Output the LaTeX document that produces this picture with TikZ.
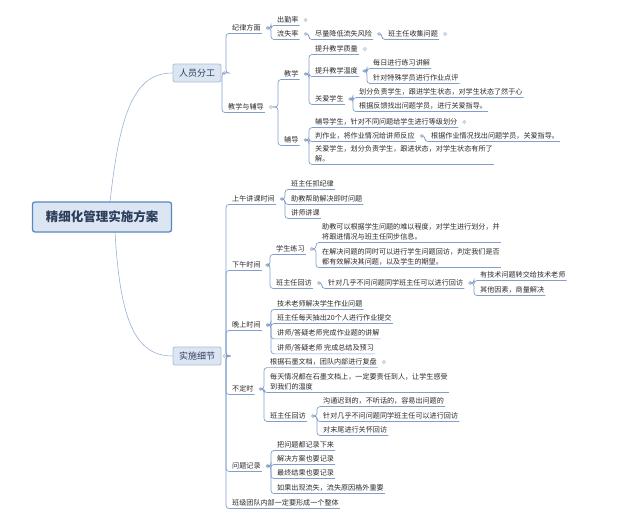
\documentclass[tikz,border=0pt]{standalone}
\usepackage{fontspec}
\setmainfont{Noto Sans CJK SC}
\usepackage{tikz}
\usetikzlibrary{positioning}

\definecolor{linkblue}{HTML}{819FCB}
\definecolor{knobgray}{HTML}{B3BFCE}
\definecolor{boxfill}{HTML}{DCE6F3}
\definecolor{boxline}{HTML}{5A86C2}
\definecolor{mainline}{HTML}{A9BCD8}
\definecolor{inkgray}{HTML}{2A2A2A}
\definecolor{inkblue}{HTML}{2E3D5C}

\begin{document}
\begin{tikzpicture}[x=1pt,y=-1pt,
    topic/.style={anchor=west, inner xsep=1pt, inner ysep=2pt, align=left, text=inkgray, font=\fontsize{7.1}{10}\selectfont},
    main topic/.style={draw=mainline, fill=boxfill, rounded corners=2pt, line width=0.8pt, minimum width=48pt, minimum height=18pt, inner sep=0pt, text=inkblue, font=\fontsize{9}{11}\selectfont},
    central/.style={draw=boxline, fill=boxfill, rounded corners=2.5pt, line width=1.3pt, minimum width=139pt, minimum height=30pt, inner sep=0pt, text=inkblue, font=\bfseries\fontsize{12.5}{14}\selectfont},
    knob/.style={circle, draw=knobgray, fill=knobgray!45, inner sep=0pt, minimum size=3.5pt, right=4pt of #1},
    branch/.style={draw=linkblue, line width=0.7pt, rounded corners=3pt,
        to path={-| ([xshift=-5pt]\tikztotarget.south west) -- (\tikztotarget.south east)}},
    link/.style={draw=linkblue!80, line width=0.6pt}]
    \useasboundingbox (0,0) rectangle (635,522);

    % upper half
    \node[main topic] (ry) at (197,73) {人员分工};
    \node[topic] (jl) at (231,28) {纪律方面};
    \node[topic] (cql) at (276,20) {出勤率};
    \node[topic] (lsl) at (276,34) {流失率};
    \node[topic] (jdfx) at (314,34) {尽量降低流失风险};
    \node[topic] (sjwt) at (387,34) {班主任收集问题};
    \node[topic] (jxfd) at (227,107) {教学与辅导};
    \node[topic] (jx) at (283,74) {教学};
    \node[topic] (zl) at (314,49) {提升教学质量};
    \node[topic] (wd) at (314,71) {提升教学温度};
    \node[topic] (mr) at (372,63) {每日进行练习讲解};
    \node[topic] (dp) at (372,78) {针对特殊学员进行作业点评};
    \node[topic] (ga) at (314,99) {关爱学生};
    \node[topic] (hf) at (358,92) {划分负责学生，跟进学生状态，对学生状态了然于心};
    \node[topic] (zd) at (358,106) {根据反馈找出问题学员，进行关爱指导。};
    \node[topic] (fd) at (283,140) {辅导};
    \node[topic] (dj) at (314,122) {辅导学生，针对不同问题给学生进行等级划分};
    \node[topic] (pzy) at (314,136) {判作业，将作业情况给讲师反应};
    \node[topic] (gzd) at (430,136) {根据作业情况找出问题学员，关爱指导。};
    \node[topic] (gafz) at (314,154) {关爱学生，划分负责学生，跟进状态，对学生状态有所了\\解。};

    % lower half
    \node[main topic] (ss) at (197,356) {实施细节};
    \node[topic] (sw) at (231,199) {上午讲课时间};
    \node[topic] (bzr) at (290,184) {班主任抓纪律};
    \node[topic] (zj) at (290,199) {助教帮助解决即时问题};
    \node[topic] (jk) at (290,213) {讲师讲课};
    \node[topic] (xw) at (231,265) {下午时间};
    \node[topic] (xslx) at (275,249) {学生练习};
    \node[topic] (lx1) at (321,232) {助教可以根据学生问题的难以程度，对学生进行划分，并\\将跟进情况与班主任同步信息。};
    \node[topic] (lx2) at (321,257) {在解决问题的同时可以进行学生问题回访，判定我们是否\\都有效解决其问题，以及学生的期望。};
    \node[topic] (hf1) at (275,283) {班主任回访};
    \node[topic] (jd1) at (327,283) {针对几乎不问问题同学班主任可以进行回访};
    \node[topic] (js) at (479,275) {有技术问题转交给技术老师};
    \node[topic] (qt) at (479,290) {其他因素，商量解决};
    \node[topic] (ws) at (231,325) {晚上时间};
    \node[topic] (ws1) at (276,304) {技术老师解决学生作业问题};
    \node[topic] (ws2) at (276,318) {班主任每天抽出20个人进行作业提交};
    \node[topic] (ws3) at (276,333) {讲师/答疑老师完成作业题的讲解};
    \node[topic] (ws4) at (276,348) {讲师/答疑老师 完成总结及预习};
    \node[topic] (bd) at (231,389) {不定时};
    \node[topic] (fp) at (269,362) {根据石墨文档，团队内部进行复盘};
    \node[topic] (wdu) at (269,382) {每天情况都在石墨文档上，一定要责任到人，让学生感受\\到我们的温度};
    \node[topic] (hf2) at (269,416) {班主任回访};
    \node[topic] (gt) at (322,401) {沟通迟到的，不听话的，容易出问题的};
    \node[topic] (jd2) at (322,416) {针对几乎不问问题同学班主任可以进行回访};
    \node[topic] (mw) at (322,430) {对末尾进行关怀回访};
    \node[topic] (wt) at (231,466) {问题记录};
    \node[topic] (wt1) at (276,445) {把问题都记录下来};
    \node[topic] (wt2) at (276,459) {解决方案也要记录};
    \node[topic] (wt3) at (276,473) {最终结果也要记录};
    \node[topic] (wt4) at (276,488) {如果出现流失，流失原因格外重要};
    \node[topic] (zt) at (231,503) {班级团队内部一定要形成一个整体};

    % knobs
    \node[knob=ry, right=1pt of ry] (k-ry) {};
    \node[knob=jl] (k-jl) {};
    \node[knob=cql] (k-cql) {};
    \node[knob=lsl] (k-lsl) {};
    \node[knob=jdfx] (k-jdfx) {};
    \node[knob=sjwt] (k-sjwt) {};
    \node[knob=jxfd] (k-jxfd) {};
    \node[knob=jx] (k-jx) {};
    \node[knob=zl] (k-zl) {};
    \node[knob=wd] (k-wd) {};
    \node[knob=ga] (k-ga) {};
    \node[knob=fd] (k-fd) {};
    \node[knob=dj] (k-dj) {};
    \node[knob=pzy] (k-pzy) {};
    \node[knob=ss, right=1pt of ss] (k-ss) {};
    \node[knob=sw] (k-sw) {};
    \node[knob=xw] (k-xw) {};
    \node[knob=xslx] (k-xslx) {};
    \node[knob=hf1] (k-hf1) {};
    \node[knob=jd1] (k-jd1) {};
    \node[knob=ws] (k-ws) {};
    \node[knob=bd] (k-bd) {};
    \node[knob=fp] (k-fp) {};
    \node[knob=hf2] (k-hf2) {};
    \node[knob=wt] (k-wt) {};

    \path
    (k-ry) edge[branch] (jl)
           edge[branch] (jxfd)
    (k-jl) edge[branch] (cql)
           edge[branch] (lsl)
    (k-lsl) edge[branch] (jdfx)
    (k-jdfx) edge[branch] (sjwt)
    (k-jxfd) edge[branch] (jx)
             edge[branch] (fd)
    (k-jx) edge[branch] (zl)
           edge[branch] (wd)
           edge[branch] (ga)
    (k-wd) edge[branch] (mr)
           edge[branch] (dp)
    (k-ga) edge[branch] (hf)
           edge[branch] (zd)
    (k-fd) edge[branch] (dj)
           edge[branch] (pzy)
           edge[branch] (gafz)
    (k-pzy) edge[branch] (gzd);

    \path
    (k-ss) edge[branch] (sw)
           edge[branch] (xw)
           edge[branch] (ws)
           edge[branch] (bd)
           edge[branch] (wt)
           edge[branch] (zt)
    (k-sw) edge[branch] (bzr)
           edge[branch] (zj)
           edge[branch] (jk)
    (k-xw) edge[branch] (xslx)
           edge[branch] (hf1)
    (k-xslx) edge[branch] (lx1)
             edge[branch] (lx2)
    (k-hf1) edge[branch] (jd1)
    (k-jd1) edge[branch] (js)
            edge[branch] (qt)
    (k-ws) edge[branch] (ws1)
           edge[branch] (ws2)
           edge[branch] (ws3)
           edge[branch] (ws4)
    (k-bd) edge[branch] (fp)
           edge[branch] (wdu)
           edge[branch] (hf2)
    (k-hf2) edge[branch] (gt)
            edge[branch] (jd2)
            edge[branch] (mw)
    (k-wt) edge[branch] (wt1)
           edge[branch] (wt2)
           edge[branch] (wt3)
           edge[branch] (wt4);

    % centre topic
    \draw[link] (110,202) .. controls (120,110) and (135,73) .. (ry.west);
    \draw[link] (115,232) .. controls (120,320) and (135,356) .. (ss.west);
    \node[central] (fa) at (102,217) {精细化管理实施方案};
\end{tikzpicture}
\end{document}
